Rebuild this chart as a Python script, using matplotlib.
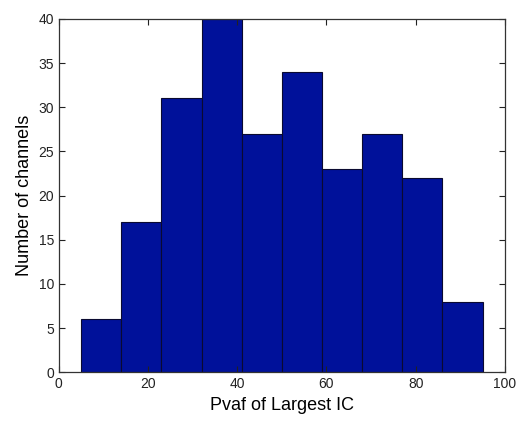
import numpy as np
from matplotlib import pyplot as plt

# histogram of pvaf for the largest IC per channel
bin_edges = [5, 14, 23, 32, 41, 50, 59, 68, 77, 86, 95]
counts = [6, 17, 31, 40, 27, 34, 23, 27, 22, 8]
x_ticks = [0, 20, 40, 60, 80, 100]
y_ticks = [0, 5, 10, 15, 20, 25, 30, 35, 40]

plt.rcParams['font.family'] = ['Liberation Sans', 'DejaVu Sans']

fig = plt.figure(figsize=(5.21, 4.21), dpi=100)
ax = fig.add_axes([0.113, 0.116, 0.856, 0.839])

centers = (np.array(bin_edges[:-1]) + np.array(bin_edges[1:])) / 2
ax.hist(centers, bins=bin_edges, weights=counts,
        color='#00119a', edgecolor='#0a0a30', linewidth=0.8)

ax.set_xlim(0, 100)
ax.set_ylim(0, 40)
ax.set_xticks(x_ticks)
ax.set_yticks(y_ticks)
ax.tick_params(direction='in', top=True, right=True, length=4,
               labelsize=10, colors='#222222')
for s in ax.spines.values():
    s.set_linewidth(0.9)
    s.set_color('#333333')

ax.set_xlabel('Pvaf of Largest IC', fontsize=13)
ax.set_ylabel('Number of channels', fontsize=13)

fig.savefig('out.png', dpi=100)
